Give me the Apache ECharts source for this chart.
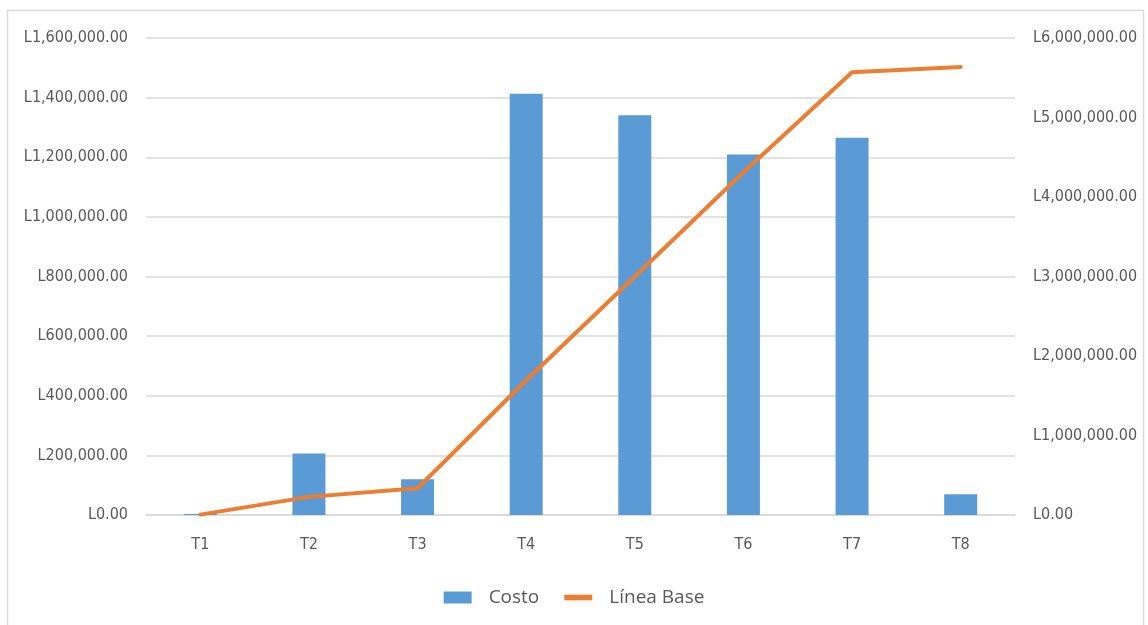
<!DOCTYPE html>
<html>
<head>
<meta charset="utf-8">
<script src="https://cdn.jsdelivr.net/npm/echarts@6/dist/echarts.min.js"></script>
<style>
html,body{margin:0;padding:0;background:#fff;}
#chart{width:1148px;height:625px;}
</style>
</head>
<body>
<div id="chart"></div>
<script>
var categories = ['T1','T2','T3','T4','T5','T6','T7','T8'];
var costo = [3000, 206000, 120000, 1413000, 1341000, 1209000, 1265000, 70000];
var lineaBase = [5000, 228000, 336000, 1695000, 3000000, 4312000, 5570000, 5635000];
var leftTicks = {min: 0, max: 1600000, interval: 200000};
var rightTicks = {min: 0, max: 6000000, interval: 1000000};

var axisFont = "'DejaVu Sans Condensed','Liberation Sans',sans-serif";
function money(v){
  return 'L' + Number(v).toLocaleString('en-US',{minimumFractionDigits:2, maximumFractionDigits:2});
}

var chart = echarts.init(document.getElementById('chart'));
chart.setOption({
  backgroundColor: '#ffffff',
  animation: false,
  graphic: [{
    type: 'rect',
    shape: {x: 7.5, y: 10.5, width: 1136, height: 640},
    style: {fill: 'none', stroke: '#d9d9d9', lineWidth: 1.5},
    silent: true, z: -10
  }],
  grid: {left: 146, right: 133, top: 38, bottom: 110},
  legend: {
    top: 583,
    left: 'center',
    itemGap: 25,
    itemWidth: 28,
    itemHeight: 12,
    textStyle: {fontFamily: "'Open Sans',sans-serif", fontSize: 19, color: '#595959', padding: [0,0,0,12]},
    data: [
      {name: 'Costo', icon: 'rect'},
      {name: 'Línea Base', icon: 'path://M0,0 L25,0 L25,5 L0,5 Z', itemStyle: {color: '#ed7d31'}}
    ]
  },
  xAxis: {
    type: 'category',
    data: categories,
    axisLine: {show: true, lineStyle: {color: '#d9d9d9', width: 1.5}},
    axisTick: {show: false},
    axisLabel: {color: '#595959', fontSize: 16, fontFamily: axisFont, margin: 22}
  },
  yAxis: [{
    type: 'value',
    min: leftTicks.min, max: leftTicks.max, interval: leftTicks.interval,
    axisLine: {show: false},
    axisTick: {show: false},
    splitLine: {lineStyle: {color: '#d9d9d9', width: 1.5}},
    axisLabel: {color: '#595959', fontSize: 16, fontFamily: axisFont, margin: 18, formatter: money}
  }, {
    type: 'value',
    min: rightTicks.min, max: rightTicks.max, interval: rightTicks.interval,
    axisLine: {show: false},
    axisTick: {show: false},
    splitLine: {show: false},
    axisLabel: {color: '#595959', fontSize: 16, fontFamily: axisFont, margin: 18, formatter: money}
  }],
  series: [{
    name: 'Costo',
    type: 'bar',
    data: costo,
    barWidth: 33,
    itemStyle: {color: '#5b9bd5'},
    yAxisIndex: 0
  }, {
    name: 'Línea Base',
    type: 'line',
    data: lineaBase,
    yAxisIndex: 1,
    symbol: 'none',
    showSymbol: false,
    lineStyle: {color: '#ed7d31', width: 4, cap: 'round', join: 'round'},
    itemStyle: {color: '#ed7d31'}
  }]
});
</script>
</body>
</html>
